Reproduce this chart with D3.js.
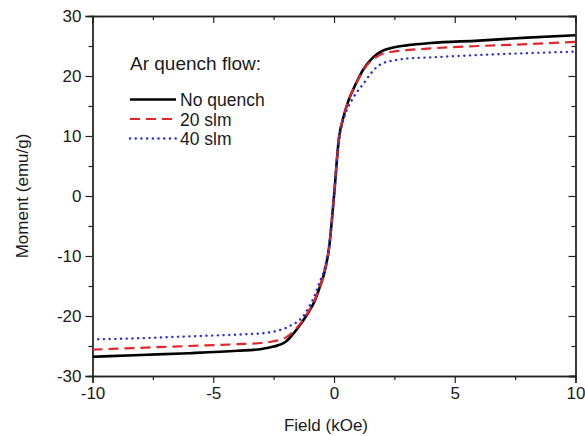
<!DOCTYPE html>
<html>
<head>
<meta charset="utf-8">
<script src="https://cdn.jsdelivr.net/npm/d3@7"></script>
<style>
  html, body { margin: 0; padding: 0; background: #fff; }
  svg { display: block; font-family: "Liberation Sans", Arial, sans-serif; }
</style>
</head>
<body>
<svg id="chart" width="585" height="436"></svg>
<script>
// ---- data ----
const field = [-10, -8, -6, -4, -3, -2.5, -2, -1.8, -1.5, -1.2, -1, -0.8, -0.6, -0.4, -0.2, 0,
               0.2, 0.4, 0.6, 0.8, 1, 1.2, 1.5, 1.8, 2, 2.5, 3, 4, 6, 8, 10];
const noQuench = [-26.8, -26.5, -26.2, -25.8, -25.5, -25.1, -24.3, -23.5, -22.0, -20.3, -19.0, -17.5, -15.3, -12.8, -8.5, 0,
                  9.5, 13.3, 15.9, 17.8, 19.5, 21.0, 22.6, 23.7, 24.2, 24.8, 25.1, 25.5, 25.9, 26.4, 26.8];
const slm20 = [-25.6, -25.3, -25.0, -24.7, -24.5, -24.2, -23.6, -23.0, -21.8, -20.2, -18.9, -17.4, -15.3, -12.8, -8.5, 0,
               9.5, 13.3, 15.9, 17.8, 19.4, 20.9, 22.4, 23.3, 23.7, 24.1, 24.3, 24.6, 25.0, 25.3, 25.7];
const slm40 = [-23.9, -23.7, -23.4, -23.1, -22.9, -22.6, -22.0, -21.6, -20.9, -19.6, -18.2, -16.6, -14.4, -12.2, -8.0, 0,
               9.0, 12.8, 14.9, 16.4, 17.6, 18.6, 20.3, 21.6, 22.1, 22.6, 22.9, 23.1, 23.5, 23.8, 24.05];
const seriesNames = ["No quench", "20 slm", "40 slm"];
const xTicks = [-10, -5, 0, 5, 10];
const yTicks = [-30, -20, -10, 0, 10, 20, 30];
const xMinor = [-7.5, -2.5, 2.5, 7.5];
const yMinor = [-25, -15, -5, 5, 15, 25];
const legendTitle = "Ar quench flow:";
const xTitle = "Field (kOe)";
const yTitle = "Moment (emu/g)";

// ---- layout ----
const W = 585, H = 436;
const m = { left: 92.5, right: 9.5, top: 16, bottom: 60 };
const iw = W - m.left - m.right, ih = H - m.top - m.bottom;
const svg = d3.select("#chart");
const g = svg.append("g").attr("transform", `translate(${m.left},${m.top})`);

const x = d3.scaleLinear().domain([-10, 10]).range([0, iw]);
const y = d3.scaleLinear().domain([-30, 30]).range([ih, 0]);

const axisColor = "#222";
const fs = 17;
const fmt = d => String(d); // plain hyphen-minus like the reference

// bottom axis (outward ticks)
g.append("g").attr("transform", `translate(0,${ih})`)
  .call(d3.axisBottom(x).tickValues(xTicks).tickSize(7).tickPadding(4).tickFormat(fmt));
g.append("g").attr("transform", `translate(0,${ih})`)
  .call(d3.axisBottom(x).tickValues(xMinor).tickSize(4).tickFormat(""));
// left axis
g.append("g").call(d3.axisLeft(y).tickValues(yTicks).tickSize(7).tickPadding(4).tickFormat(fmt));
g.append("g").call(d3.axisLeft(y).tickValues(yMinor).tickSize(4).tickFormat(""));
// top axis (inward)
g.append("g").call(d3.axisTop(x).tickValues(xTicks).tickSize(-7).tickFormat(""));
g.append("g").call(d3.axisTop(x).tickValues(xMinor).tickSize(-4).tickFormat(""));
// right axis (inward)
g.append("g").attr("transform", `translate(${iw},0)`).call(d3.axisRight(y).tickValues(yTicks).tickSize(-7).tickFormat(""));
g.append("g").attr("transform", `translate(${iw},0)`).call(d3.axisRight(y).tickValues(yMinor).tickSize(-4).tickFormat(""));

g.selectAll(".domain").attr("stroke", axisColor).attr("stroke-width", 1.3);
g.selectAll(".tick line").attr("stroke", axisColor).attr("stroke-width", 1.2);
g.selectAll(".tick text").attr("fill", "#1a1a1a").style("font-size", fs + "px")
  .style("font-family", '"Liberation Sans", Arial, sans-serif');

// axis titles
svg.append("text").attr("x", 326).attr("y", 431)
  .attr("text-anchor", "middle").style("font-size", "17px").attr("fill", "#1a1a1a").text(xTitle);
svg.append("text").attr("transform", `translate(28,${m.top + y(0)}) rotate(-90)`)
  .attr("text-anchor", "middle").style("font-size", "17px").attr("fill", "#1a1a1a").text(yTitle);

// ---- curves ----
const styles = [
  { data: noQuench, color: "#000000", width: 2.6, dash: null, cap: "butt" },
  { data: slm20, color: "#e3242b", width: 2.2, dash: "10,6", cap: "butt" },
  { data: slm40, color: "#2b2bd9", width: 2.4, dash: "0.1,5.6", cap: "round" }
];
const line = d3.line().x(d => x(d[0])).y(d => y(d[1])).curve(d3.curveMonotoneX);
svg.append("clipPath").attr("id", "clip").append("rect").attr("width", iw).attr("height", ih);
const plot = g.append("g").attr("clip-path", "url(#clip)");
styles.forEach(s => {
  plot.append("path")
    .datum(field.map((f, i) => [f, s.data[i]]))
    .attr("fill", "none").attr("stroke", s.color).attr("stroke-width", s.width)
    .attr("stroke-dasharray", s.dash).attr("stroke-linecap", s.cap)
    .attr("d", line);
});

// ---- legend ----
const lg = svg.append("g");
lg.append("text").attr("x", 130).attr("y", 70).style("font-size", "19px").attr("fill", "#1a1a1a").text(legendTitle);
seriesNames.forEach((name, i) => {
  const yy = 99.5 + i * 19.5;
  const s = styles[i];
  lg.append("line").attr("x1", 130).attr("x2", 176).attr("y1", yy).attr("y2", yy)
    .attr("stroke", s.color).attr("stroke-width", s.width)
    .attr("stroke-dasharray", s.dash).attr("stroke-linecap", s.cap);
  lg.append("text").attr("x", 180).attr("y", yy + 6.5).style("font-size", "17.5px").attr("fill", "#1a1a1a").text(name);
});
</script>
</body>
</html>
